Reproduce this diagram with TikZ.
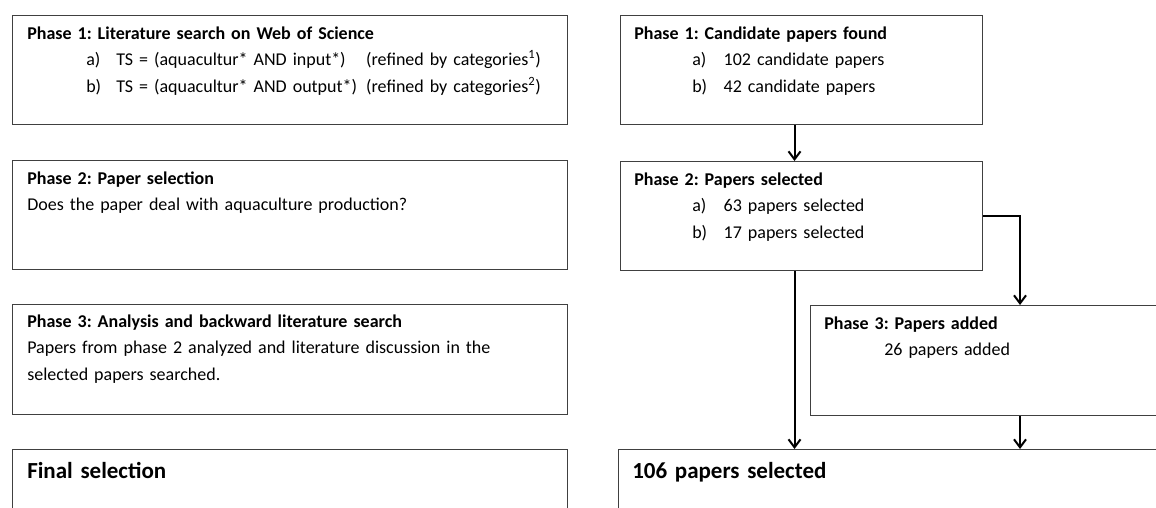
\documentclass[tikz,border=0pt]{standalone}
\usepackage{fontspec}
\setmainfont{Carlito}
\usetikzlibrary{calc, positioning, arrows.meta}
\newlength{\pix}
\setlength{\pix}{0.75pt}
\frenchspacing

\begin{document}
\begin{tikzpicture}[
        x=\pix, y=-\pix,
        font=\fontsize{13.5}{20}\selectfont,
        >={Straight Barb[length=6pt,width=9pt]},
        box/.style={
            draw=black!75,
            line width=0.75pt,
            inner sep=0pt,
            minimum width=416.25pt,
            minimum height=81.75pt
        },
        txt/.style={
            anchor=base west,
            inner sep=0pt,
            text width=400pt,
            align=left
        },
        big/.style={
            font=\fontsize{17.25}{20}\selectfont\bfseries
        },
        link/.style={->, line width=1.5pt}
    ]
    
    \useasboundingbox (0,0) rectangle (1156,507);
    \clip (0,0) rectangle (1156,507);
    
    % --- LEFT COLUMN ---
    \node[box, anchor=north west] (lit) at (12,15) {};
    \node[box, below=26.25pt of lit] (sel) {};
    \node[box, below=25.5pt of sel, minimum height=82.5pt] (ana) {};
    \node[box, below=25.5pt of ana, minimum height=75pt] (fin) {};
    
    \node[txt] (lit-t) at ($(lit.north west)+(15,24)$) {
    \textbf{Phase 1: Literature search on Web of Science}\\
    \hspace*{44.25pt}\makebox[22.5pt][l]{a)}\makebox[187.5pt][l]{TS = (aquacultur* AND input*)}(refined by categories\textsuperscript{1})\\
    \hspace*{44.25pt}\makebox[22.5pt][l]{b)}\makebox[187.5pt][l]{TS = (aquacultur* AND output*)}(refined by categories\textsuperscript{2})
    };
    \node[txt] (sel-t) at ($(sel.north west)+(15,24)$) {
    \textbf{Phase 2: Paper selection}\\
    Does the paper deal with aquaculture production?
    };
    \node[txt] (ana-t) at ($(ana.north west)+(15,23)$) {
    \textbf{Phase 3: Analysis and backward literature search}\\
    Papers from phase 2 analyzed and literature discussion in the\\
    selected papers searched.
    };
    \node[txt, big] (fin-t) at ($(fin.north west)+(15,29)$) {Final selection};
    
    % --- RIGHT COLUMN ---
    \node[box, right=39pt of lit, minimum width=271.5pt] (cand) {};
    \node[box, below=27pt of cand, minimum width=271.5pt] (psel) {};
    \node[box, anchor=north west, minimum width=270pt, minimum height=82.5pt] (add) at ($(psel.south west)+(190,34)$) {};
    \node[box, right=37.5pt of fin, minimum width=450pt, minimum height=75pt] (res) {};
    
    \node[txt] (cand-t) at ($(cand.north west)+(14,24)$) {
    \textbf{Phase 1: Candidate papers found}\\
    \hspace*{43.5pt}\makebox[23.6pt][l]{a)}102 candidate papers\\
    \hspace*{43.5pt}\makebox[23.6pt][l]{b)}42 candidate papers
    };
    \node[txt] (psel-t) at ($(psel.north west)+(14,24)$) {
    \textbf{Phase 2: Papers selected}\\
    \hspace*{43.5pt}\makebox[23.6pt][l]{a)}63 papers selected\\
    \hspace*{43.5pt}\makebox[23.6pt][l]{b)}17 papers selected
    };
    \node[txt] (add-t) at ($(add.north west)+(14,24)$) {
    \textbf{Phase 3: Papers added}\\
    \hspace*{45pt}26 papers added
    };
    \node[txt, big] (res-t) at ($(res.north west)+(14,29)$) {106 papers selected};
    
    % --- ARROWS ---
    \coordinate (mid) at ($(cand.south)+(-7,0)$);
    \coordinate (side) at ($(add.north west)+(210,0)$);
    \draw[link] (mid) -- (mid |- psel.north);
    \draw[link] (psel.south -| mid) -- (res.north -| mid);
    \draw[link] (psel.east) -| (side);
    \draw[link] (add.south -| side) -- (res.north -| side);
    
\end{tikzpicture}
\end{document}
